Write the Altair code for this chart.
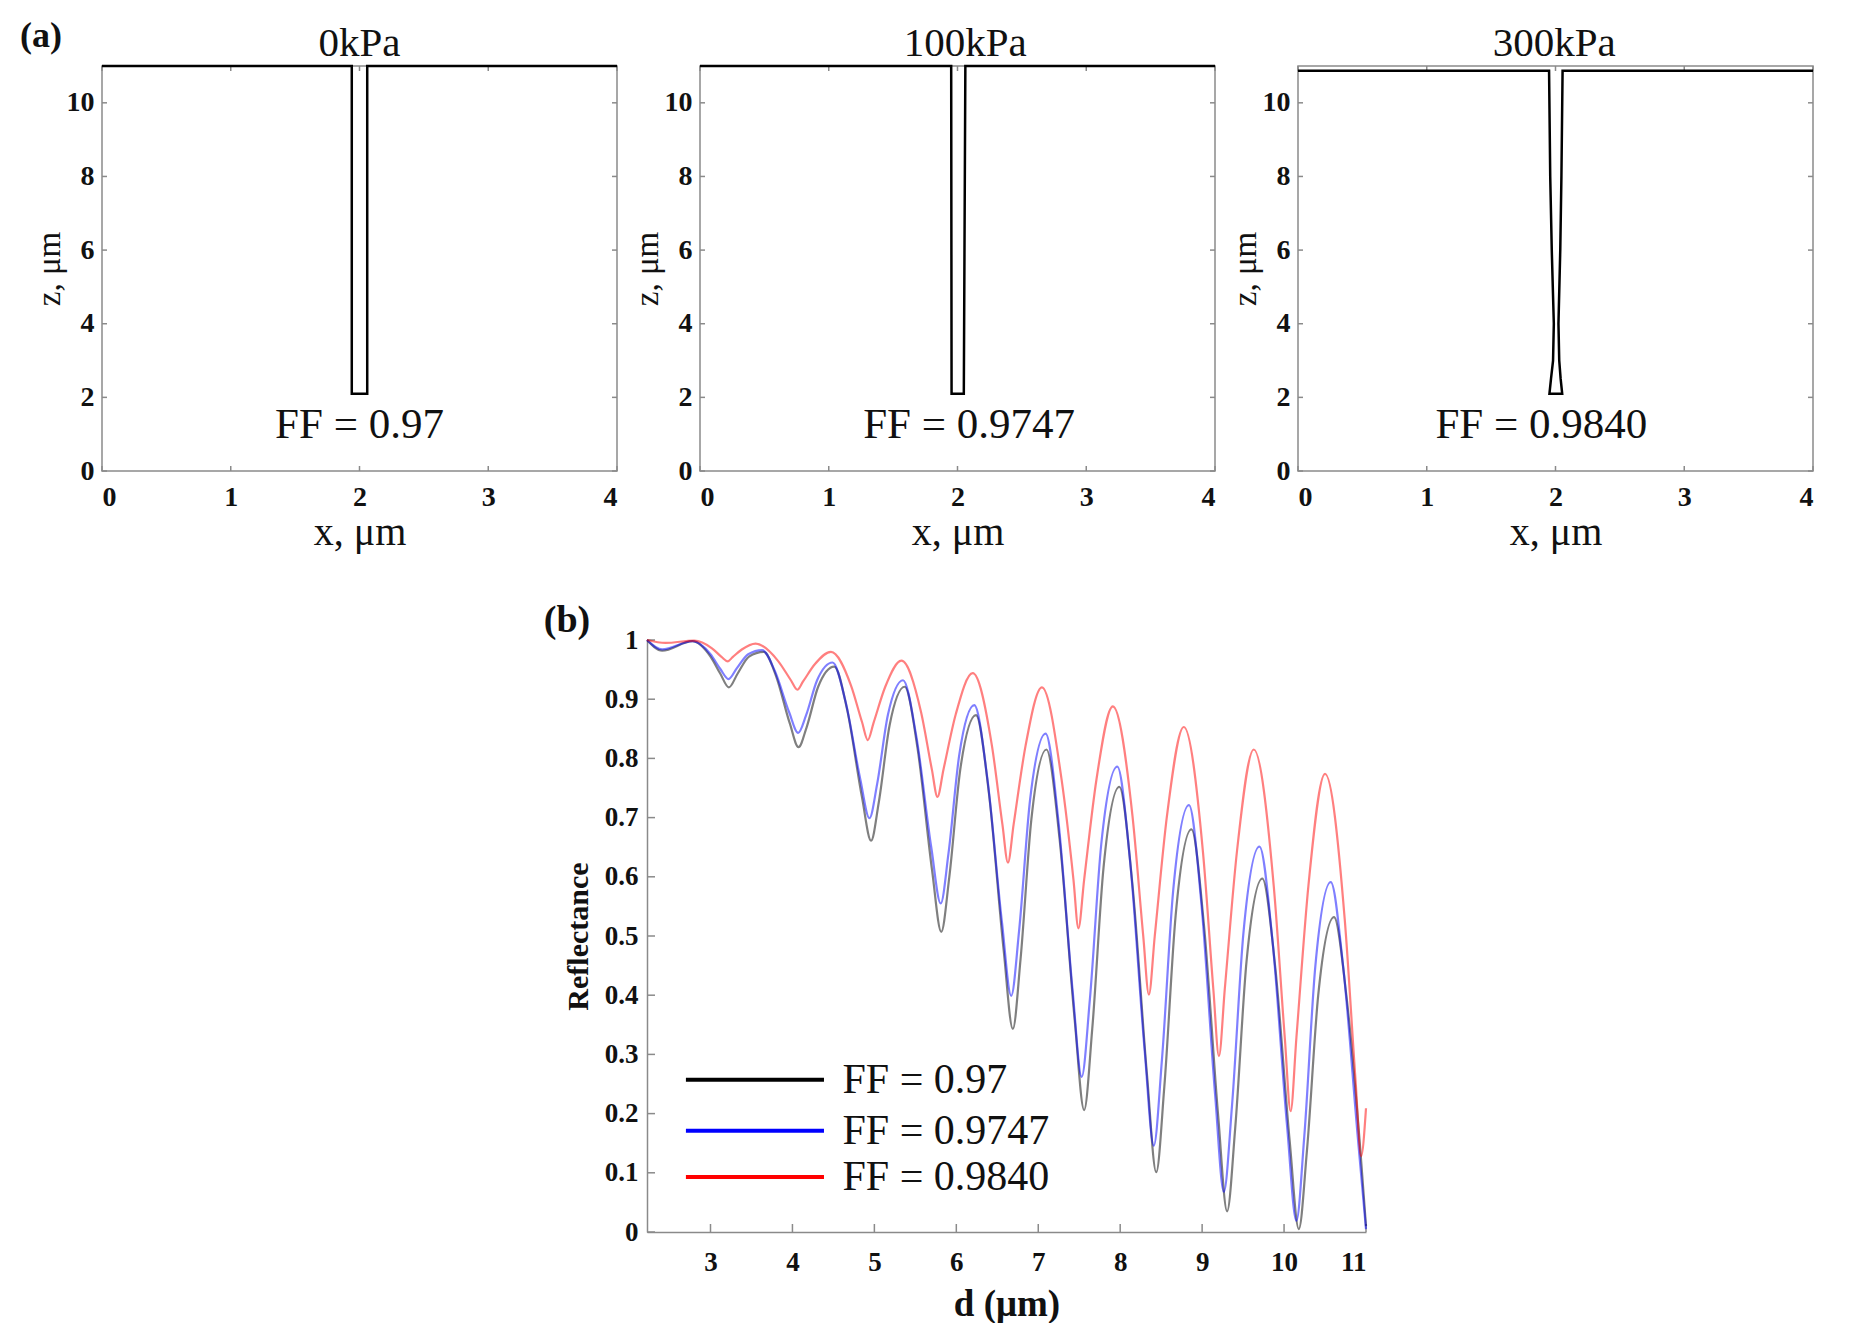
import altair as alt
import pandas as pd

# ---------------- panel (a): groove profiles ----------------
panel_titles = ["0kPa", "100kPa", "300kPa"]
panel_title_x = [2.0, 2.06, 1.99]
ff_labels = ["FF = 0.97", "FF = 0.9747", "FF = 0.9840"]
ff_label_x = [2.0, 2.09, 1.89]
ff_label_z = [1.26, 1.26, 1.26]

groove0_x = [0, 1.94, 1.94, 2.06, 2.06, 4]
groove0_z = [11, 11, 2.1, 2.1, 11, 11]
groove1_x = [0, 1.951, 1.954, 2.049, 2.061, 4]
groove1_z = [11, 11, 2.1, 2.1, 11, 11]
groove2_x = [0, 1.950, 1.959, 1.971, 1.987, 1.981, 1.965, 1.953,
             2.052, 2.040, 2.029, 2.023, 2.037, 2.046, 2.055, 4]
groove2_z = [10.87, 10.87, 8, 6, 4, 3, 2.5, 2.1,
             2.1, 2.5, 3, 4, 6, 8, 10.87, 10.87]

x_ticks_a = [0, 1, 2, 3, 4]
z_ticks_a = [0, 2, 4, 6, 8, 10]

# ---------------- panel (b): reflectance vs d ----------------
series_names = ["FF = 0.97", "FF = 0.9747", "FF = 0.9840"]
series_colors = ["#000000", "#0000ff", "#ff0000"]

black_d = [2.225, 2.41, 2.78, 3.00, 3.12, 3.224, 3.33, 3.47, 3.65, 3.798, 3.968, 4.074,
           4.174, 4.314, 4.51, 4.668, 4.848, 4.96, 5.054, 5.186, 5.37, 5.526, 5.705,
           5.816, 5.914, 6.049, 6.24, 6.398, 6.578, 6.69, 6.784, 6.916, 7.10, 7.261,
           7.445, 7.56, 7.659, 7.797, 7.99, 8.148, 8.328, 8.44, 8.539, 8.677, 8.87,
           9.022, 9.196, 9.305, 9.404, 9.542, 9.735, 9.891, 10.069, 10.18, 10.279,
           10.417, 10.61, 10.76, 10.93, 11.0]
black_r = [1.000, 0.982, 0.998, 0.972, 0.943, 0.920, 0.943, 0.972, 0.980, 0.940, 0.859, 0.819,
           0.853, 0.921, 0.955, 0.882, 0.735, 0.661, 0.726, 0.856, 0.921, 0.818, 0.610,
           0.507, 0.599, 0.782, 0.873, 0.741, 0.476, 0.343, 0.461, 0.697, 0.815, 0.663,
           0.358, 0.206, 0.343, 0.616, 0.752, 0.589, 0.264, 0.101, 0.246, 0.535, 0.680,
           0.519, 0.196, 0.035, 0.176, 0.457, 0.597, 0.449, 0.153, 0.005, 0.137,
           0.400, 0.532, 0.400, 0.140, 0.010]

blue_d = [2.225, 2.41, 2.78, 3.00, 3.12, 3.22, 3.32, 3.46, 3.63, 3.784, 3.96, 4.07,
          4.167, 4.301, 4.49, 4.648, 4.828, 4.94, 5.034, 5.166, 5.35, 5.511, 5.695,
          5.81, 5.904, 6.036, 6.22, 6.378, 6.558, 6.67, 6.767, 6.901, 7.09, 7.244,
          7.42, 7.53, 7.63, 7.769, 7.965, 8.121, 8.299, 8.41, 8.509, 8.647, 8.84,
          8.989, 9.159, 9.265, 9.365, 9.504, 9.70, 9.858, 10.038, 10.15, 10.247,
          10.381, 10.57, 10.72, 10.90, 11.0]
blue_r = [1.000, 0.984, 0.998, 0.976, 0.951, 0.934, 0.952, 0.976, 0.983, 0.948, 0.878, 0.843,
          0.873, 0.932, 0.962, 0.896, 0.765, 0.699, 0.757, 0.874, 0.932, 0.838, 0.649,
          0.555, 0.639, 0.806, 0.890, 0.767, 0.522, 0.399, 0.510, 0.731, 0.842, 0.697,
          0.407, 0.262, 0.393, 0.655, 0.786, 0.626, 0.306, 0.146, 0.290, 0.577, 0.721,
          0.558, 0.231, 0.068, 0.214, 0.505, 0.651, 0.493, 0.177, 0.019, 0.162,
          0.448, 0.591, 0.450, 0.160, 0.005]

red_d = [2.225, 2.45, 2.80, 3.018, 3.138, 3.21, 3.27, 3.382, 3.55, 3.828, 3.981, 4.06,
         4.13, 4.273, 4.47, 4.715, 4.850, 4.92, 4.99, 5.133, 5.33, 5.57, 5.702,
         5.77, 5.843, 5.994, 6.20, 6.434, 6.563, 6.63, 6.70, 6.846, 7.045, 7.285,
         7.43, 7.49, 7.56, 7.71, 7.91, 8.15, 8.282, 8.35, 8.422, 8.572, 8.776,
         9.01, 9.138, 9.205, 9.277, 9.426, 9.63, 9.875, 10.01, 10.08, 10.151,
         10.298, 10.50, 10.74, 10.872, 10.94, 11.0]
red_r = [1.000, 0.995, 0.999, 0.986, 0.971, 0.964, 0.971, 0.984, 0.994, 0.964, 0.932, 0.916,
         0.930, 0.959, 0.980, 0.923, 0.861, 0.831, 0.860, 0.921, 0.965, 0.878, 0.781,
         0.735, 0.781, 0.875, 0.944, 0.822, 0.688, 0.624, 0.689, 0.822, 0.920, 0.764,
         0.595, 0.513, 0.595, 0.764, 0.888, 0.703, 0.499, 0.401, 0.500, 0.704, 0.853,
         0.642, 0.408, 0.297, 0.411, 0.644, 0.815, 0.583, 0.326, 0.204, 0.329,
         0.586, 0.774, 0.529, 0.257, 0.128, 0.209]

d_ticks = [3, 4, 5, 6, 7, 8, 9, 10, 11]
r_ticks = [0, 0.1, 0.2, 0.3, 0.4, 0.5, 0.6, 0.7, 0.8, 0.9, 1]

legend_x0 = [2.70, 2.70, 2.70]
legend_x1 = [4.385, 4.385, 4.385]
legend_y = [0.257, 0.171, 0.093]
legend_text_x = [4.61, 4.61, 4.61]

FONT = "Liberation Serif"
TXT = "#111111"
BOX = "#8a8a8a"

# ---------------- build panel (a) ----------------
W_A, H_A = 515, 405


def panel_a(i, gx, gz, with_label):
    xenc = alt.X("x:Q", scale=alt.Scale(domain=[0, 4], nice=False, zero=False),
                 axis=alt.Axis(values=x_ticks_a, title="x, μm", ticks=False, domain=False,
                               grid=False, labelFontSize=28, labelFontWeight="bold",
                               labelPadding=12, labelColor=TXT, titleFontSize=40,
                               titleFontWeight="normal", titlePadding=1, titleColor=TXT))
    yenc = alt.Y("y:Q", scale=alt.Scale(domain=[0, 11], nice=False, zero=False),
                 axis=alt.Axis(values=z_ticks_a, title="z, μm", ticks=False, domain=False,
                               grid=False, labelFontSize=28, labelFontWeight="bold",
                               labelPadding=8, labelColor=TXT, titleFontSize=33,
                               titleFontWeight="normal", titlePadding=0, titleColor=TXT))
    struct = alt.Chart(pd.DataFrame({"x": gx, "y": gz, "i": list(range(len(gx)))})).mark_line(
        color="black", strokeWidth=2.5).encode(x=xenc, y=yenc, order="i:Q")
    ann = alt.Chart(pd.DataFrame({"x": [ff_label_x[i]], "y": [ff_label_z[i]],
                                  "label": [ff_labels[i]]})).mark_text(
        fontSize=43, align="center", baseline="middle", color=TXT).encode(
        x=xenc, y=yenc, text="label:N")
    ttl = alt.Chart(pd.DataFrame({"x": [panel_title_x[i]], "label": [panel_titles[i]]})).mark_text(
        fontSize=41, align="center", baseline="alphabetic", color=TXT).encode(
        x=xenc, y=alt.value(-10), text="label:N")
    xt = pd.DataFrame({"x": x_ticks_a})
    zt = pd.DataFrame({"y": z_ticks_a})
    tb = alt.Chart(xt).mark_rule(color=BOX, strokeWidth=1.5).encode(
        x=xenc, y=alt.value(H_A), y2=alt.value(H_A - 5))
    tt = alt.Chart(xt).mark_rule(color=BOX, strokeWidth=1.5).encode(
        x=xenc, y=alt.value(0), y2=alt.value(5))
    tl = alt.Chart(zt).mark_rule(color=BOX, strokeWidth=1.5).encode(
        y=yenc, x=alt.value(0), x2=alt.value(5))
    tr = alt.Chart(zt).mark_rule(color=BOX, strokeWidth=1.5).encode(
        y=yenc, x=alt.value(W_A - 5), x2=alt.value(W_A))
    layers = [tb, tt, tl, tr, struct, ann, ttl]
    if with_label:
        lab = alt.Chart(pd.DataFrame({"t": ["(a)"]})).mark_text(
            fontSize=36, fontWeight="bold", align="center", baseline="middle",
            color=TXT).encode(x=alt.value(-61), y=alt.value(-30), text="t:N")
        layers.append(lab)
    return alt.layer(*layers).properties(
        width=W_A, height=H_A,
        view=alt.ViewBackground(stroke=BOX, strokeWidth=1.5))


pa0 = panel_a(0, groove0_x, groove0_z, True)
pa1 = panel_a(1, groove1_x, groove1_z, False)
pa2 = panel_a(2, groove2_x, groove2_z, False)

top_row = alt.hconcat(pa0, pa1, pa2, spacing=83, bounds="flush")

# ---------------- build panel (b) ----------------
W_B, H_B = 719, 592
d_scale = alt.Scale(domain=[2.225, 11], nice=False, zero=False)

xenc_b = alt.X("x:Q", scale=d_scale,
               axis=alt.Axis(values=d_ticks, format="d", title="d (μm)", ticks=False,
                             domain=True, domainColor=BOX, domainWidth=1.5, grid=False,
                             labelFontSize=27, labelFontWeight="bold", labelPadding=17,
                             labelColor=TXT, titleFontSize=37, titleFontWeight="bold",
                             titlePadding=11, titleColor=TXT))
yenc_b = alt.Y("y:Q", scale=alt.Scale(domain=[0, 1], nice=False, zero=False),
               axis=alt.Axis(values=r_ticks, format="~g", title="Reflectance", ticks=False,
                             domain=True, domainColor=BOX, domainWidth=1.5, grid=False,
                             labelFontSize=27, labelFontWeight="bold", labelPadding=9,
                             labelColor=TXT, titleFontSize=30, titleFontWeight="bold",
                             titlePadding=11, titleColor=TXT))

curve_df = pd.concat([
    pd.DataFrame({"x": black_d, "y": black_r, "series": series_names[0]}),
    pd.DataFrame({"x": blue_d, "y": blue_r, "series": series_names[1]}),
    pd.DataFrame({"x": red_d, "y": red_r, "series": series_names[2]}),
], ignore_index=True)

curves = alt.Chart(curve_df).mark_line(strokeWidth=2.2, opacity=0.5,
                                       interpolate="monotone").encode(
    x=xenc_b, y=yenc_b,
    color=alt.Color("series:N", scale=alt.Scale(domain=series_names, range=series_colors),
                    legend=None))

leg_df = pd.DataFrame({"x": legend_x0, "x2": legend_x1, "y": legend_y,
                       "c": series_colors, "label": series_names, "tx": legend_text_x})
leg_lines = alt.Chart(leg_df).mark_rule(strokeWidth=4).encode(
    x=xenc_b, x2="x2:Q", y=yenc_b, color=alt.Color("c:N", scale=None))
leg_text = alt.Chart(leg_df).mark_text(fontSize=42, align="left", baseline="middle",
                                       color=TXT).encode(
    x=alt.X("tx:Q", scale=d_scale), y=yenc_b, text="label:N")

dt = pd.DataFrame({"x": d_ticks})
rt = pd.DataFrame({"y": r_ticks})
tbx = alt.Chart(dt).mark_rule(color=BOX, strokeWidth=1.5).encode(
    x=xenc_b, y=alt.value(H_B), y2=alt.value(H_B - 8))
tly = alt.Chart(rt).mark_rule(color=BOX, strokeWidth=1.5).encode(
    y=yenc_b, x=alt.value(0), x2=alt.value(8))
lab_b = alt.Chart(pd.DataFrame({"t": ["(b)"]})).mark_text(
    fontSize=38, fontWeight="bold", align="center", baseline="middle",
    color=TXT).encode(x=alt.value(-80), y=alt.value(-19), text="t:N")

pb = alt.layer(tbx, tly, curves, leg_lines, leg_text, lab_b).properties(
    width=W_B, height=H_B)

# empty cell that pushes panel (b) to the right, under the middle of the top row
spacer = alt.Chart(pd.DataFrame({"s": [0]})).mark_point(opacity=0).encode(
    x=alt.X("s:Q", axis=None), y=alt.Y("s:Q", axis=None)).properties(
    width=462, height=1)

bottom_row = alt.hconcat(spacer, pb, spacing=83, bounds="flush")

chart = alt.vconcat(top_row, bottom_row, spacing=48).properties(
    padding={"left": 11, "top": 9, "right": 5, "bottom": 0}
).configure(font=FONT).configure_view(stroke="transparent")

chart.save("out.html", embed_options={"renderer": "svg", "actions": False})
